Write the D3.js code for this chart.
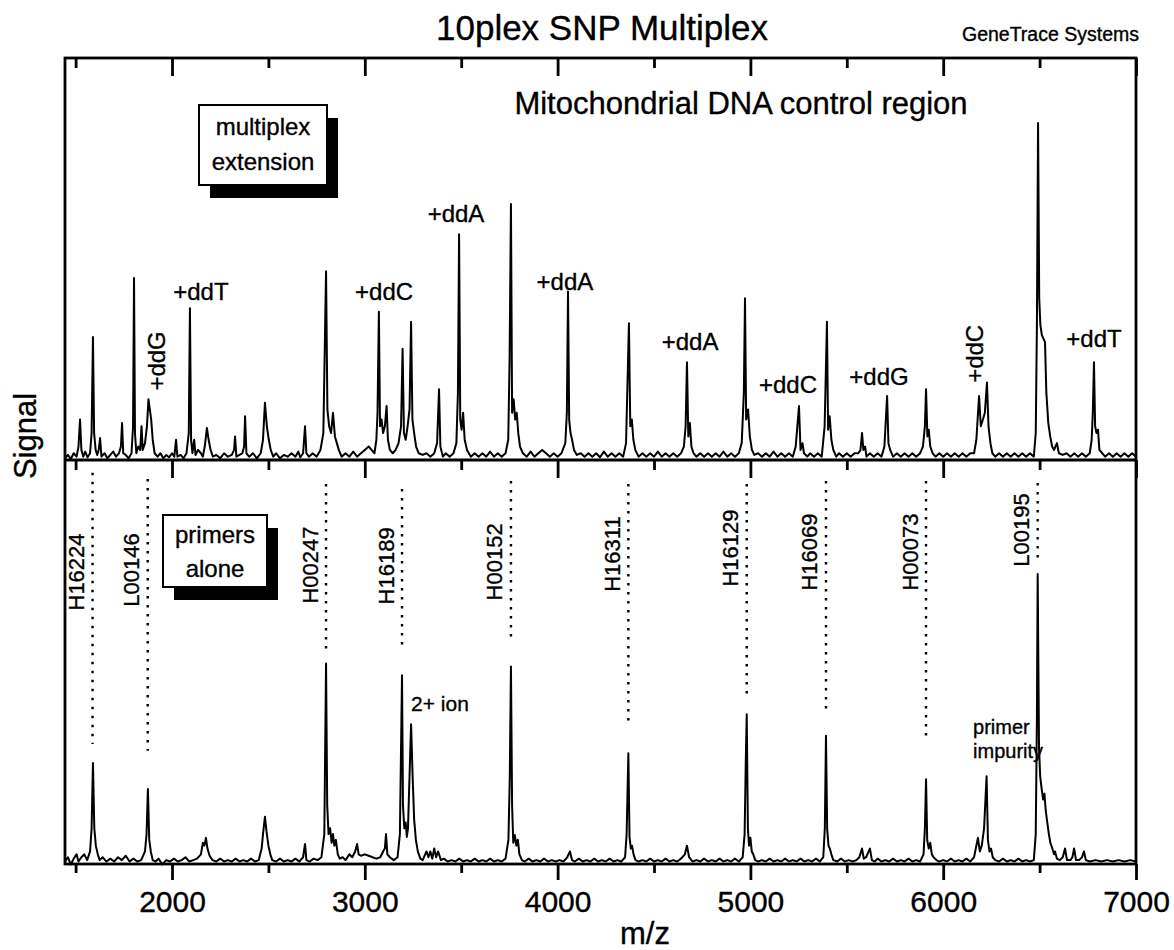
<!DOCTYPE html>
<html><head><meta charset="utf-8">
<script src="https://cdn.jsdelivr.net/npm/d3@7"></script>
<style>
body{margin:0;background:#fff}
svg{display:block;background:#fff}
text{font-family:"Liberation Sans",Arial,Helvetica,sans-serif;fill:#000;stroke:#000;stroke-width:0.35px}
</style>
</head><body>
<svg id="chart" width="1174" height="950"></svg>
<script>
// ---------------- DATA ----------------
const xMajorTicks = [2000, 3000, 4000, 5000, 6000, 7000];
const xMinorTicks = [1500, 2500, 3500, 4500, 5500, 6500];
const xDomain = [1445, 7000];

// upper trace: multiplex extension  [m/z, signal (tallest = 100)]
const extensionTrace = [
[1445,0.5],[1460,1.5],[1475,0.3],[1490,2],[1505,1],[1515,4],[1523,12],[1530,3],[1540,1],[1550,2.5],[1562,0.8],[1575,2],
[1583,8],[1590,36.5],[1596,8],[1604,3],[1612,1.5],[1620,3],[1627,6.5],[1634,1],[1650,2],[1665,0.5],[1680,1.5],[1695,2.5],
[1710,1],[1725,2],[1735,4],[1741,11],[1747,2],[1760,1.5],[1775,0.5],[1790,2],[1798,10],[1803,54],[1808,8],[1815,2],
[1825,4],[1835,3],[1842,10],[1848,3],[1860,5],[1870,10],[1878,18],[1885,15],[1892,12],[1900,6],[1910,2],[1925,1],
[1940,2],[1955,0.5],[1970,1.5],[1985,0.8],[2000,2],[2012,1],[2021,6],[2028,1],[2045,1.5],[2060,0.5],[2075,2],[2087,8],
[2093,45],[2099,6],[2106,2],[2115,6],[2122,1.5],[2135,3],[2150,2],[2160,1],[2170,4],[2181,9.5],[2190,6],[2200,3],
[2212,1],[2230,1.5],[2250,0.5],[2270,2],[2290,1],[2310,1.5],[2322,3],[2327,7],[2334,1],[2350,1.5],[2365,2],[2374,4],
[2379,13],[2386,2],[2400,1],[2420,2],[2440,0.5],[2460,2],[2472,6],[2482,17],[2492,10],[2502,6],[2512,3],[2525,1],
[2540,2],[2560,0.5],[2580,1.5],[2600,1],[2620,2],[2640,1],[2655,2.5],[2665,0.8],[2680,2],[2690,10],[2697,2],[2710,1],
[2730,2],[2750,1],[2770,3],[2785,8],[2799,56],[2806,15],[2815,10],[2825,8],[2835,14],[2845,7],[2855,5],[2865,3],
[2880,1],[2900,2],[2920,1],[2940,2.5],[2960,1],[2980,2],[3000,3],[3020,4],[3035,3],[3050,2],[3060,6],[3066,14],
[3073,44],[3079,10],[3087,12],[3095,8],[3104,10],[3113,16],[3120,6],[3130,3],[3145,2],[3160,3],[3175,5],[3188,10],
[3196,33],[3203,8],[3212,6],[3222,10],[3232,15],[3240,41],[3247,12],[3256,8],[3266,4],[3280,2],[3300,1.5],[3320,2],
[3340,1],[3360,2],[3375,5],[3385,21],[3392,4],[3405,1],[3420,2],[3440,1],[3460,2],[3475,5],[3483,20],[3489,67],
[3495,12],[3502,9],[3510,14],[3518,6],[3530,3],[3550,1],[3570,2],[3590,1],[3610,2],[3630,1],[3650,2.5],[3670,1],
[3690,2],[3710,1],[3730,2],[3744,6],[3751,30],[3758,76],[3764,14],[3772,18],[3780,12],[3788,14],[3796,8],[3805,4],
[3820,2],[3840,1],[3860,2.5],[3880,1],[3900,2],[3920,3],[3940,2],[3960,1],[3980,2],[4000,1],[4020,2],[4040,5],
[4048,14],[4054,50],[4060,12],[4067,8],[4075,6],[4085,3],[4100,1.5],[4120,2],[4140,1],[4160,2],[4180,1],[4200,2],
[4220,0.8],[4240,2.5],[4260,1],[4280,2],[4300,1],[4320,2],[4340,1],[4355,5],[4370,40.6],[4377,10],[4385,12],[4393,6],
[4403,3],[4420,1],[4440,2],[4460,1],[4480,2],[4500,1],[4520,2.5],[4540,1],[4560,2],[4580,1],[4600,2],[4620,1],
[4640,2],[4655,4],[4664,10],[4671,29],[4678,7],[4686,11],[4694,4],[4705,2],[4720,1],[4740,2],[4760,1],[4780,2],
[4800,1],[4820,2],[4840,1],[4860,2.5],[4880,1],[4900,2],[4920,1],[4940,2],[4955,5],[4966,20],[4972,48],[4978,12],
[4988,15],[4997,7],[5008,3],[5020,1.5],[5040,2],[5060,1],[5080,2],[5100,1],[5120,2.5],[5140,1],[5160,2],[5180,1],
[5200,2],[5220,1],[5235,4],[5252,16],[5260,3],[5270,5],[5278,2],[5295,1],[5310,2],[5330,1],[5350,2],[5370,1],
[5385,10],[5397,41],[5403,9],[5411,13],[5420,6],[5430,3],[5445,1],[5460,2],[5480,1],[5500,2],[5520,1],[5540,2],
[5560,2],[5571,3],[5579,8],[5586,3],[5595,4],[5602,1],[5620,2],[5640,1],[5660,2],[5680,1],[5695,4],[5709,19],
[5716,5],[5725,3],[5740,1],[5760,2],[5780,1],[5800,2],[5820,1],[5840,2],[5860,1],[5880,2],[5895,4],[5905,10],
[5911,21],[5918,7],[5925,9],[5933,4],[5945,2],[5960,1],[5980,2],[6000,1],[6020,2],[6040,1],[6060,2],[6080,1],
[6100,2],[6120,1],[6140,2],[6160,2],[6172,6],[6186,19],[6195,10],[6206,12],[6216,14],[6227,23],[6235,10],[6245,5],
[6255,2],[6270,1],[6290,2],[6310,1],[6330,2],[6350,1],[6370,2],[6390,1],[6410,2],[6430,1],[6450,2],[6470,1],
[6480,8],[6486,40],[6492,100],[6498,48],[6504,40],[6512,37],[6520,36],[6528,35],[6535,20],[6545,11],[6555,7],
[6565,4],[6575,3],[6590,5],[6600,2],[6620,1.5],[6640,2],[6660,1],[6680,2],[6700,1],[6720,2],[6740,1],[6760,2],
[6770,6],[6776,14],[6782,29],[6788,10],[6795,8],[6803,9],[6810,3],[6825,2],[6840,1],[6860,2],[6880,1],[6900,2],
[6920,1],[6940,2],[6960,1],[6980,2],[7000,1]
];

// lower trace: primers alone  [m/z, signal (tallest = 100)]
const primerTrace = [
[1445,0.5],[1460,2],[1475,-0.5],[1490,1.5],[1505,3],[1515,0.5],[1530,2],[1545,3],[1560,1],[1575,4],[1583,12],
[1590,34.6],[1597,12],[1605,6],[1615,3],[1625,1],[1640,2],[1660,0.5],[1680,1.5],[1700,0.5],[1720,2],[1740,1],
[1760,2.5],[1780,0.5],[1800,1.5],[1820,0.5],[1840,1],[1860,4],[1868,10],[1875,25.6],[1882,8],[1890,4],[1900,1],
[1915,0.5],[1930,1.5],[1950,-0.5],[1970,1],[1990,0.5],[2010,1.5],[2030,0.5],[2050,1],[2070,2],[2090,0.5],[2110,1],
[2130,1.5],[2150,3],[2160,7],[2168,6],[2176,8.7],[2184,5],[2195,2.5],[2210,1],[2230,0.5],[2250,1.5],[2270,0.5],
[2290,1],[2310,0.5],[2330,1.5],[2350,0.5],[2370,1],[2390,0.5],[2410,1.5],[2430,0.5],[2450,1],[2465,5],[2472,10],
[2482,16],[2490,11],[2500,6],[2510,3],[2520,1],[2540,0.5],[2560,1.5],[2580,0.5],[2600,1],[2620,0.5],[2640,1.5],
[2660,0.5],[2680,2],[2690,6.6],[2697,1],[2715,0.5],[2735,1.5],[2755,1],[2775,2],[2790,10],[2799,69],[2805,20],
[2812,10],[2820,12],[2828,7],[2835,10],[2842,6],[2850,8],[2860,3],[2870,1.5],[2885,2],[2900,1],[2920,3],[2935,2],
[2950,4],[2960,6.6],[2968,3],[2980,2.5],[3000,3],[3020,2.5],[3040,2],[3060,1.5],[3080,2],[3095,4],[3104,5],[3110,10],
[3117,3],[3130,2],[3150,1],[3170,2],[3182,10],[3193,65],[3198,20],[3205,12],[3212,14],[3218,9],[3224,12],[3232,30],
[3240,48],[3248,30],[3256,15],[3265,8],[3275,4],[3288,1.5],[3300,1],[3320,4],[3330,2],[3340,4],[3350,1.5],[3360,5],
[3370,2],[3380,4],[3395,1],[3410,1.5],[3430,0.5],[3450,1],[3470,0.5],[3490,1.5],[3510,0.5],[3530,1],[3550,0.5],
[3570,1.5],[3590,0.5],[3610,1],[3630,0.5],[3650,1.5],[3670,0.5],[3690,1],[3710,0.5],[3730,1.5],[3745,8],[3752,30],
[3758,68],[3764,20],[3770,7],[3778,9.7],[3786,6],[3794,8],[3802,3],[3815,1],[3830,0.5],[3850,1.5],[3870,0.5],
[3890,1],[3910,0.5],[3930,1.5],[3950,0.5],[3970,1],[3990,0.5],[4010,1],[4030,0.5],[4050,2],[4064,4],[4075,1],
[4090,0.5],[4110,1.5],[4130,0.5],[4150,1],[4170,0.5],[4190,1.5],[4210,0.5],[4230,1],[4250,0.5],[4270,1.5],[4290,0.5],
[4310,1],[4330,0.5],[4350,2],[4358,10],[4367,38],[4373,9],[4380,5],[4386,6],[4394,3],[4404,1],[4420,0.5],[4440,1],
[4460,0.5],[4480,1.5],[4500,0.5],[4520,1],[4540,0.5],[4560,1.5],[4580,0.5],[4600,1],[4620,0.5],[4640,1.5],[4660,3],
[4671,6],[4682,2],[4700,0.5],[4720,1],[4740,0.5],[4760,1.5],[4780,0.5],[4800,1],[4820,0.5],[4840,1.5],[4860,0.5],
[4880,1],[4900,0.5],[4920,1.5],[4940,0.5],[4960,2],[4970,10],[4976,35],[4981,51.5],[4987,12],[4993,6],[5000,8.7],
[5007,4],[5015,3],[5025,1],[5040,0.5],[5060,1],[5080,0.5],[5100,1.5],[5120,0.5],[5140,1],[5160,0.5],[5180,1.5],
[5200,0.5],[5220,1],[5240,0.5],[5260,1.5],[5280,0.5],[5300,1],[5320,0.5],[5340,1.5],[5360,0.5],[5378,2],[5386,12],
[5392,44],[5398,12],[5405,6],[5412,5],[5420,3],[5430,1],[5450,0.5],[5470,1.5],[5490,0.5],[5510,1],[5530,0.5],
[5550,1],[5565,2],[5579,5],[5588,1.5],[5600,2],[5620,5],[5630,1],[5645,0.5],[5660,1.5],[5680,0.5],[5700,1],
[5720,0.5],[5740,1.5],[5760,0.5],[5780,1],[5800,0.5],[5820,1.5],[5840,0.5],[5860,1],[5880,0.5],[5898,3],[5905,12],
[5911,29],[5917,8],[5925,5],[5933,7],[5941,3],[5950,2],[5965,1],[5980,0.5],[6000,1],[6020,0.5],[6040,1.5],[6060,0.5],
[6080,1],[6100,0.5],[6120,1.5],[6140,0.5],[6160,2],[6172,6],[6180,8.7],[6190,4],[6200,6],[6212,12],[6225,30],
[6232,8],[6240,4],[6248,5],[6257,2],[6270,1],[6290,0.5],[6310,1.5],[6330,0.5],[6350,1],[6370,0.5],[6390,1.5],
[6410,0.5],[6430,1],[6450,0.5],[6470,1],[6480,10],[6486,50],[6490,100],[6497,40],[6503,30],[6510,26],[6518,22],
[6525,24],[6532,18],[6540,14],[6548,10],[6556,7],[6566,5],[6575,3],[6580,4],[6590,1.5],[6605,1],[6620,2],[6632,5],
[6642,1],[6660,1],[6670,2],[6679,5],[6689,1],[6705,1],[6720,2],[6730,4],[6740,1],[6760,0.5],[6790,1],[6820,0.5],
[6850,1],[6880,0.5],[6910,1],[6940,0.5],[6970,1],[7000,0.5]
];

// extension annotations: text, m/z, signal level, vertical?
const extLabelText  = ["+ddG","+ddT","+ddC","+ddA","+ddA","+ddA","+ddC","+ddG","+ddC","+ddT"];
const extLabelMz    = [1922, 2150, 3100, 3473, 4038, 4687, 5195, 5667, 6160, 6782];
const extLabelLevel = [29.4, 47.5, 47.5, 70.6, 50.4, 32.6, 19.9, 22.3, 31.5, 33.5];
const extLabelVert  = [true, false, false, false, false, false, false, false, true, false];

// primers: name, m/z, dotted marker top/bottom (signal units), label centre level
const primerNames     = ["H16224","L00146","H00247","H16189","H00152","H16311","H16129","H16069","H00073","L00195"];
const primerMz        = [1588, 1874, 2799, 3193, 3758, 4367, 4981, 5392, 5911, 6490];
const primerMarkTop   = [135, 132.9, 131.1, 129.4, 132.2, 131.1, 131.1, 132.2, 132.2, 131.5];
const primerMarkBot   = [41.2, 38.8, 73.4, 73.4, 76.1, 49.1, 57.1, 51.6, 42.2, 104.5];
const primerLabelMid  = [100.7, 101.4, 103.1, 102.8, 104.2, 106.9, 109, 107.6, 107.6, 115.2];

// other annotation texts
const titleText = "10plex SNP Multiplex";
const creditText = "GeneTrace Systems";
const subtitleText = "Mitochondrial DNA control region";
const upperBoxLines = ["multiplex", "extension"];
const lowerBoxLines = ["primers", "alone"];
const ionNote = ["2+ ion", 3240, 52.6];
const impurityNote = [["primer","impurity"], 6155];
const xTitle = "m/z";
const yTitle = "Signal";

// ---------------- LAYOUT ----------------
const L = 65, R = 1136, T = 58, MID = 460, B = 864;
const svg = d3.select("#chart");
const x = d3.scaleLinear().domain(xDomain).range([L, R]);
const yTop = d3.scaleLinear().domain([0, 100]).range([MID, 123]);
const yBot = d3.scaleLinear().domain([0, 100]).range([B - 1, 574]);

// traces
const lineTop = d3.line().x(d => x(d[0])).y(d => yTop(d[1]));
const lineBot = d3.line().x(d => x(d[0])).y(d => yBot(d[1]));
svg.append("path").attr("d", lineTop(extensionTrace)).attr("fill","none")
  .attr("stroke","#000").attr("stroke-width",2).attr("stroke-linejoin","round");
svg.append("path").attr("d", lineBot(primerTrace)).attr("fill","none")
  .attr("stroke","#000").attr("stroke-width",2).attr("stroke-linejoin","round");

// frame
svg.append("rect").attr("x",L).attr("y",T).attr("width",R-L).attr("height",B-T)
  .attr("fill","none").attr("stroke","#000").attr("stroke-width",2.8);
svg.append("line").attr("x1",L).attr("x2",R).attr("y1",MID).attr("y2",MID)
  .attr("stroke","#000").attr("stroke-width",2.8);

// axes (ticks)
function tickAxis(y, major, minor, labels) {
  const gMaj = svg.append("g").attr("transform",`translate(0,${y})`)
    .call(d3.axisBottom(x).tickValues(xMajorTicks).tickSize(major).tickPadding(11)
      .tickFormat(labels ? d3.format("d") : () => ""));
  const gMin = svg.append("g").attr("transform",`translate(0,${y})`)
    .call(d3.axisBottom(x).tickValues(xMinorTicks).tickSize(minor).tickFormat(() => ""));
  [gMaj, gMin].forEach(g => {
    g.select(".domain").remove();
    g.selectAll("line").attr("stroke","#000").attr("stroke-width",2.8);
  });
  gMaj.selectAll("text").attr("font-size",30).attr("fill","#000").attr("stroke","#000").attr("stroke-width",0.35)
    .attr("font-family",'"Liberation Sans",Arial,sans-serif');
}
tickAxis(T, 18, 10, false);
tickAxis(MID, 18, 10, false);
tickAxis(B, 16, 9, true);

// titles
svg.append("text").attr("x",602).attr("y",40).attr("text-anchor","middle")
  .attr("font-size",35).text(titleText);
svg.append("text").attr("x",1139).attr("y",41).attr("text-anchor","end")
  .attr("font-size",19.5).text(creditText);
svg.append("text").attr("x",741).attr("y",114).attr("text-anchor","middle")
  .attr("font-size",31).text(subtitleText);
svg.append("text").attr("x",645).attr("y",944).attr("text-anchor","middle")
  .attr("font-size",31).text(xTitle);
svg.append("text").attr("transform","translate(36,436) rotate(-90)").attr("text-anchor","middle")
  .attr("font-size",31).text(yTitle);

// boxes with drop shadow
function shadowBox(bx, by, bw, bh, lines, dy0, lh) {
  svg.append("rect").attr("x",bx+11).attr("y",by+13).attr("width",bw).attr("height",bh).attr("fill","#000");
  svg.append("rect").attr("x",bx).attr("y",by).attr("width",bw).attr("height",bh)
    .attr("fill","#fff").attr("stroke","#000").attr("stroke-width",2);
  lines.forEach((t,i) => svg.append("text").attr("x",bx+bw/2).attr("y",by+dy0+i*lh)
    .attr("text-anchor","middle").attr("font-size",24).text(t));
}
shadowBox(199, 105, 128, 80, upperBoxLines, 30, 35);
shadowBox(163, 515, 104, 72, lowerBoxLines, 28, 34);

// extension labels
extLabelText.forEach((t,i) => {
  const px = x(extLabelMz[i]), py = yTop(extLabelLevel[i]);
  if (extLabelVert[i]) {
    svg.append("text").attr("transform",`translate(${px},${py}) rotate(-90)`)
      .attr("text-anchor","middle").attr("dominant-baseline","central").attr("font-size",24).text(t);
  } else {
    svg.append("text").attr("x",px).attr("y",py).attr("text-anchor","middle").attr("font-size",24).text(t);
  }
});

// primer markers and labels
primerNames.forEach((n,i) => {
  const px = x(primerMz[i]);
  svg.append("line").attr("x1",px).attr("x2",px)
    .attr("y1",yBot(primerMarkTop[i])).attr("y2",yBot(primerMarkBot[i]))
    .attr("stroke","#000").attr("stroke-width",2.4).attr("stroke-dasharray","2.5,6.5");
  svg.append("text").attr("transform",`translate(${px-16},${yBot(primerLabelMid[i])}) rotate(-90)`)
    .attr("text-anchor","middle").attr("dominant-baseline","central").attr("font-size",22).text(n);
});

// notes in lower panel
svg.append("text").attr("x",x(ionNote[1])).attr("y",yBot(ionNote[2])).attr("font-size",21).text(ionNote[0]);
impurityNote[0].forEach((t,i) => svg.append("text").attr("x",x(impurityNote[1])).attr("y",734+i*24)
  .attr("font-size",20).text(t));
</script>
</body></html>
